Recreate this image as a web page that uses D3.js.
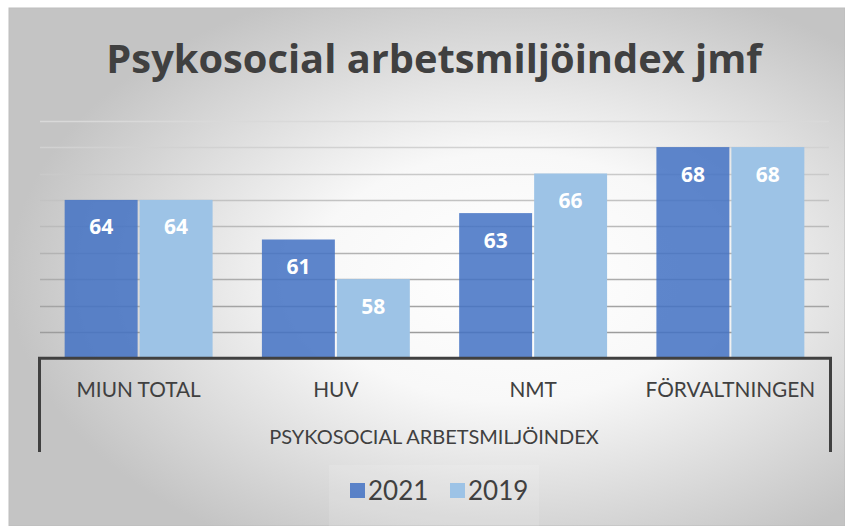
<!DOCTYPE html>
<html>
<head>
<meta charset="utf-8">
<script src="https://cdn.jsdelivr.net/npm/d3@7"></script>
<style>
  html, body { margin: 0; padding: 0; background: #fff; }
  svg { display: block; }
</style>
</head>
<body>
<svg width="845" height="526"></svg>
<script>
// data
const categories = ["MIUN TOTAL", "HUV", "NMT", "FÖRVALTNINGEN"];
const series = ["2021", "2019"];
const values2021 = [64, 61, 63, 68];
const values2019 = [64, 58, 66, 68];
const yTicks = [54, 56, 58, 60, 62, 64, 66, 68, 70];
const title = "Psykosocial arbetsmiljöindex jmf";
const groupLabel = "PSYKOSOCIAL ARBETSMILJÖINDEX";

const colors = { "2021": "#4472C4", "2019": "#9DC3E6" };

let svg = d3.select("svg");
let defs = svg.append("defs");

// background gradient
let bg = defs.append("radialGradient")
  .attr("id", "bg")
  .attr("cx", "60%").attr("cy", "52%").attr("r", "60%");
bg.append("stop").attr("offset", "0%").attr("stop-color", "#ffffff");
bg.append("stop").attr("offset", "40%").attr("stop-color", "#f8f8f8");
bg.append("stop").attr("offset", "100%").attr("stop-color", "#c4c4c4");

let gridGrad = defs.append("linearGradient")
  .attr("id", "gridGrad")
  .attr("gradientUnits", "userSpaceOnUse")
  .attr("x1", 0).attr("x2", 0).attr("y1", 118).attr("y2", 334);
gridGrad.append("stop").attr("offset", "0%").attr("stop-color", "#dadada");
gridGrad.append("stop").attr("offset", "100%").attr("stop-color", "#9c9c9c");

svg.append("rect")
  .attr("x", 9).attr("y", 8)
  .attr("width", 845 - 9).attr("height", 526 - 8)
  .attr("fill", "url(#bg)")
  .attr("stroke", "#bdbdbd");

// scales
let y = d3.scaleLinear().domain([52, 70]).range([358.3, 120.7]);
let x0 = d3.scaleBand().domain(categories).range([40, 829])
  .paddingInner(0.25).paddingOuter(0.125);
let x1 = d3.scaleBand().domain(series).range([0, x0.bandwidth()]).paddingInner(0.027);

// title
svg.append("text")
  .attr("x", 434).attr("y", 73)
  .attr("text-anchor", "middle")
  .style("font-family", "'Open Sans', sans-serif")
  .style("font-weight", "bold")
  .style("font-size", "39.8px")
  .style("fill", "#404040")
  .text(title);

// gridlines
svg.append("g")
  .selectAll("line")
  .data(yTicks)
  .enter()
  .append("line")
  .attr("x1", 40).attr("x2", 829)
  .attr("y1", d => Math.round(y(d)) + 0.5)
  .attr("y2", d => Math.round(y(d)) + 0.5)
  .attr("stroke", "url(#gridGrad)")
  .attr("stroke-width", 1.3);

// bars
let rows = categories.map((c, i) => ({
  cat: c,
  vals: [{ s: "2021", v: values2021[i] }, { s: "2019", v: values2019[i] }]
}));

let groups = svg.append("g")
  .selectAll("g")
  .data(rows)
  .enter()
  .append("g")
  .attr("transform", d => "translate(" + x0(d.cat) + ",0)");

groups.selectAll("rect")
  .data(d => d.vals)
  .enter()
  .append("rect")
  .attr("x", d => x1(d.s))
  .attr("y", d => y(d.v))
  .attr("width", x1.bandwidth())
  .attr("height", d => y(52) - y(d.v))
  .attr("fill", d => colors[d.s])
  .attr("fill-opacity", d => d.s === "2021" ? 0.86 : 1);

groups.selectAll("text")
  .data(d => d.vals)
  .enter()
  .append("text")
  .attr("x", d => x1(d.s) + x1.bandwidth() / 2)
  .attr("y", d => y(d.v) + 34.5)
  .attr("text-anchor", "middle")
  .style("font-family", "'Open Sans', sans-serif")
  .style("font-weight", "bold")
  .style("font-size", "21px")
  .style("fill", "#ffffff")
  .text(d => d.v);

// axis box
svg.append("path")
  .attr("d", "M39.5,452V358.3H830.5V452")
  .attr("fill", "none")
  .attr("stroke", "#404040")
  .attr("stroke-width", 3);

// category labels
svg.append("g")
  .selectAll("text")
  .data(categories)
  .enter()
  .append("text")
  .attr("x", d => x0(d) + x0.bandwidth() / 2)
  .attr("y", 397)
  .attr("text-anchor", "middle")
  .style("font-family", "Lato, sans-serif")
  .style("font-size", "20.8px")
  .style("fill", "#404040")
  .text(d => d);

svg.append("text")
  .attr("x", 434).attr("y", 444)
  .attr("text-anchor", "middle")
  .style("font-family", "Lato, sans-serif")
  .style("font-size", "20px")
  .style("fill", "#404040")
  .text(groupLabel);

// legend
svg.append("rect")
  .attr("x", 329).attr("y", 465)
  .attr("width", 210).attr("height", 61)
  .attr("fill", "#ffffff").attr("fill-opacity", 0.12);

let legendX = d3.scaleOrdinal().domain(series).range([350, 450]);
let leg = svg.append("g")
  .selectAll("g")
  .data(series)
  .enter()
  .append("g")
  .attr("transform", d => "translate(" + legendX(d) + ",483)");

leg.append("rect")
  .attr("width", 15).attr("height", 15)
  .attr("fill", d => colors[d])
  .attr("fill-opacity", d => d === "2021" ? 0.86 : 1);

leg.append("text")
  .attr("x", 18).attr("y", 16.5)
  .style("font-family", "Lato, sans-serif")
  .style("font-size", "26px")
  .style("fill", "#404040")
  .text(d => d);
</script>
</body>
</html>
